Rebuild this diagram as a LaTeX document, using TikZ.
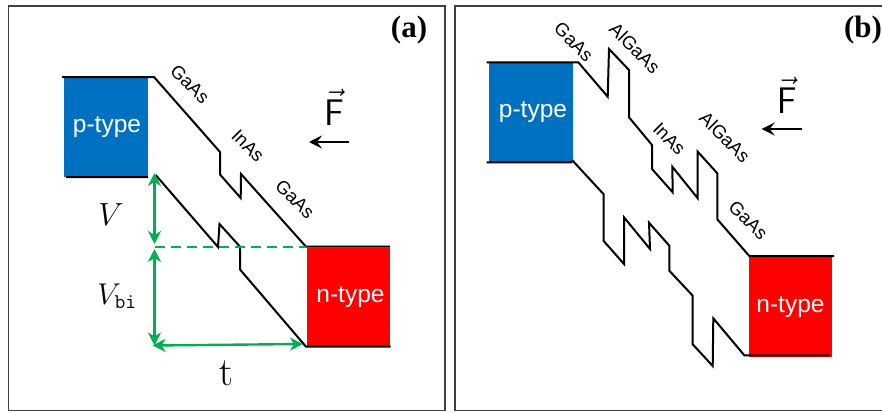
\documentclass[tikz,border=0pt]{standalone}
\usepackage{fix-cm}
\usepackage{amsmath,amssymb,amsfonts}
\usepackage[no-math]{fontspec}
\setmainfont{Liberation Serif}
\setsansfont{Liberation Sans}
\usetikzlibrary{arrows.meta}
\definecolor{ptype}{HTML}{0070C0}
\definecolor{ntype}{HTML}{FF0000}
\definecolor{dimgreen}{HTML}{00B050}

\begin{document}
\begin{tikzpicture}[
            x=1pt, y=-1pt,
            every node/.style={inner sep=0pt},
            panel/.style={draw=black!75, line width=1.3pt},
            band/.style={draw=black, line width=2pt, line join=miter},
            contact/.style={minimum width=#1, minimum height=99.5pt, text=white,
                font=\sffamily\fontsize{24.5}{28}\selectfont},
            layer/.style={rotate=-45, font=\sffamily\fontsize{18.5}{22}\selectfont},
            tag/.style={font=\bfseries\fontsize{31}{34}\selectfont},
            dimarrow/.style={draw=dimgreen, line width=2.4pt, {Stealth[length=13pt,width=13pt,inset=4pt]}-{Stealth[length=13pt,width=13pt,inset=4pt]}},
            fieldarrow/.style={draw=black, line width=2pt, -{Stealth[length=13pt,width=13pt,inset=5pt]}}
        ]
        \useasboundingbox (0,0) rectangle (882,412);
        \clip (0,0) rectangle (882,412);
        % Panel frames
        \draw[panel] (8.7,6) rectangle (445,410.5);
        \draw[panel] (455,6) rectangle (900,410.5);
        % Contacts
        \node[contact=83.5pt, fill=ptype] (pa) at (106,127) {\hspace{2pt}p-type};
        \node[contact=83pt, fill=ntype] (na) at (348.5,297.5) {\hspace{4pt}n-type};
        \node[contact=83.5pt, fill=ptype] (pb) at (531,112.5) {\hspace{4pt}\raisebox{3pt}{p-type}};
        \node[contact=82.5pt, fill=ntype] (nb) at (790.5,307) {n-type\hspace{4pt}};
        % Band edges (a)
        \draw[band] (62,77) -- (154,77) -- (220,152) -- (220,174.5) -- (240.7,198)
            -- (241,174) -- (306,246.7) -- (390,246.7);
        \draw[band] (66,177) -- (148,177) (155.7,175) -- (218,247) -- (219.5,224)
            -- (240,246.7) -- (240,269.5) -- (306,346.7) -- (390.7,346.7);
        % Band edges (b)
        \draw[band] (486.7,62.3) -- (578.3,62.3) -- (607.7,96.7) -- (609,49) -- (629,70)
            -- (629,117.3) -- (652,145) -- (652,169) -- (672.7,192.3) -- (672.3,166.7)
            -- (697.7,198.3) -- (697.7,151.7) -- (717.3,173.3) -- (717.3,219.3)
            -- (749.3,256) -- (834,256);
        \draw[band] (486.7,162.3) -- (572,162.3) (572,160) -- (603.7,194.3) -- (603.7,241)
            -- (624,264) -- (624,217.3) -- (650,249) -- (649,222.7) -- (669.3,245.7)
            -- (669.3,270.7) -- (692.7,295.7) -- (692.7,344.3) -- (712.7,366)
            -- (713.3,318.3) -- (744.3,355.3) -- (829.3,355.3);
        % Layer labels
        \foreach \nodename/\pos/\layertext in {gaasA/{190,84}/GaAs, inasA/{248,146}/InAs,
            gaasB/{295,199}/GaAs, gaasC/{573.7,41.7}/GaAs, algaasA/{635,48}/AlGaAs,
            inasB/{669.3,139}/InAs, algaasB/{725,137.3}/AlGaAs, gaasD/{748.3,220}/GaAs}
            \node[layer] (\nodename) at (\pos) {\layertext};
        % Field
        \node[font=\fontsize{37}{40}\selectfont] (Fa) at (334,107) {$\vec{\mathsf{F}}$};
        \node[font=\fontsize{37}{40}\selectfont] (Fb) at (786.7,95) {$\vec{\mathsf{F}}$};
        \coordinate (Fatail) at (349,142);
        \coordinate (Fahead) at (309,142);
        \coordinate (Fbtail) at (801.7,129);
        \coordinate (Fbhead) at (761.7,129);
        \draw[fieldarrow] (Fatail) -- (Fahead);
        \draw[fieldarrow] (Fbtail) -- (Fbhead);
        % Voltage and thickness marks
        \coordinate (vtop) at (154.5,173);
        \coordinate (vmid) at (154.5,244);
        \coordinate (bimid) at (154.5,249);
        \coordinate (bibot) at (154.5,345.5);
        \coordinate (tleft) at (152.5,345.5);
        \coordinate (tright) at (303,344);
        \coordinate (dashleft) at (155,246.7);
        \coordinate (dashright) at (306,246.7);
        \draw[dimarrow] (vtop) -- (vmid);
        \draw[dimarrow] (bimid) -- (bibot);
        \draw[dimarrow] (tleft) -- (tright);
        \draw[draw=dimgreen, line width=2pt, dash pattern=on 10pt off 6pt] (dashleft) -- (dashright);
        \node[font=\fontsize{32}{34}\selectfont] (V) at (111,215) {$V$};
        \node[font=\fontsize{30}{32}\selectfont] (Vbi) at (117,296) {$V_{\mathtt{bi}}$};
        \node[font=\fontsize{40}{42}\selectfont] (t) at (226,373) {$\mathrm{t}$};
        % Panel tags
        \node[tag] (taga) at (409,30) {(a)};
        \node[tag] (tagb) at (863,30) {(b)};
        \end{tikzpicture}
\end{document}
